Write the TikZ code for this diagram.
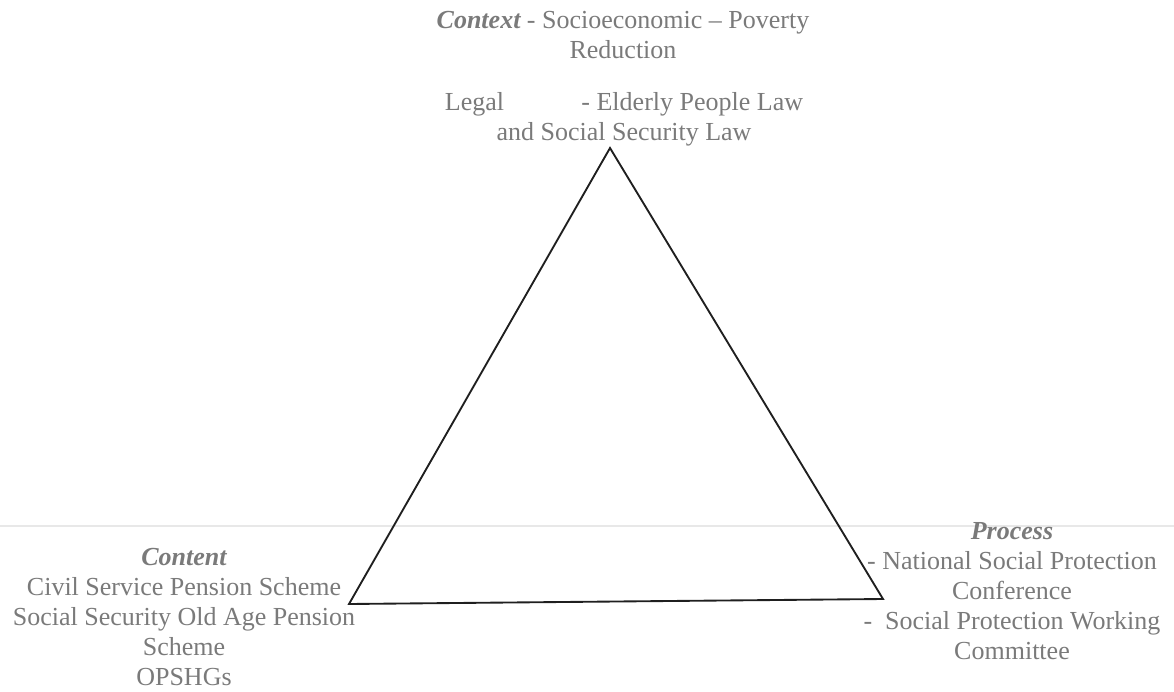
\documentclass[tikz,border=0pt]{standalone}
\usepackage{fontspec}
\setmainfont{Liberation Serif}
\begin{document}
\begin{tikzpicture}[x=0.75pt,y=-0.75pt,
  lbl/.style={text=black!52, align=center, inner sep=0pt,
    font=\fontsize{19.5}{22.5}\selectfont},
  head/.style={font=\bfseries\itshape},
  edge/.style={draw=black!88, line width=1.4pt, line join=miter}]
  \useasboundingbox (0,0) rectangle (1174,692);
  % faint rule across the sheet
  \draw[black!9, line width=1.6pt] (0,526) -- (1174,526);

  % corners of the triangle
  \coordinate (top) at (610,148);
  \coordinate (left) at (349,604);
  \coordinate (right) at (883,599);
  \draw[edge] (top) -- (left) -- (right) -- cycle;

  % labels at the three corners
  \node[lbl] (context) at (623,35)
    {{\bfseries\itshape Context} - Socioeconomic -- Poverty\\Reduction};
  \node[lbl] (legal) at (624,119)
    {Legal\hspace{58pt}- Elderly People Law\\and Social Security Law};
  \node[lbl] (content) at (184,617)
    {{\bfseries\itshape Content}\\Civil Service Pension Scheme\\Social Security Old Age Pension\\Scheme\\OPSHGs};
  \node[lbl] (process) at (1012,591)
    {{\bfseries\itshape Process}\\- National Social Protection\\Conference\\-\ \ Social Protection Working\\Committee};
\end{tikzpicture}
\end{document}
